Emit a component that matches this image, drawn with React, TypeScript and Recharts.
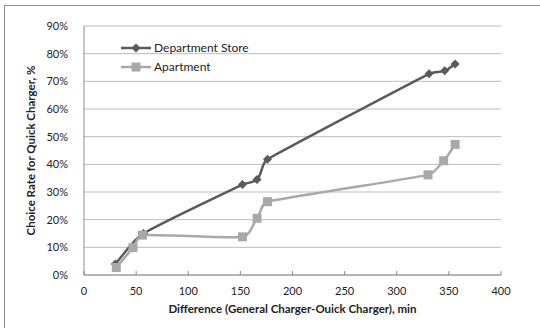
import React from "react";
import { Line, LineChart, CartesianGrid, XAxis, YAxis } from "recharts";

const departmentX = [30, 57, 152, 166, 176, 331, 346, 356];
const departmentRate = [4.0, 15.0, 32.7, 34.5, 41.8, 72.7, 73.8, 76.3];

const apartmentX = [31, 47, 56, 152, 166, 176, 330, 345, 356];
const apartmentRate = [2.7, 9.9, 14.4, 13.8, 20.5, 26.5, 36.2, 41.3, 47.2];

const xTicks = [0, 50, 100, 150, 200, 250, 300, 350, 400];
const yTicks = [0, 10, 20, 30, 40, 50, 60, 70, 80, 90];

const departmentData = departmentX.map((x, i) => ({ x, rate: departmentRate[i] }));
const apartmentData = apartmentX.map((x, i) => ({ x, rate: apartmentRate[i] }));

const DARK = "#5a5a5a";
const LIGHT = "#a9a9a9";
const FONT = "Lato, 'Open Sans', sans-serif";

// excel-ish smoothing: tangent from neighbours, short arms so long runs stay straight
const smoothCurve = (context: any) => {
  let pts: [number, number][] = [];
  return {
    areaStart() {},
    areaEnd() {},
    lineStart() {
      pts = [];
    },
    point(x: number, y: number) {
      pts.push([+x, +y]);
    },
    lineEnd() {
      const n = pts.length;
      if (!n) return;
      context.moveTo(pts[0][0], pts[0][1]);
      if (n === 1) return;
      const dir = (i: number) => {
        const a = pts[Math.max(0, i - 1)];
        const b = pts[Math.min(n - 1, i + 1)];
        const dx = b[0] - a[0];
        const dy = b[1] - a[1];
        const l = Math.hypot(dx, dy) || 1;
        return [dx / l, dy / l];
      };
      for (let i = 0; i < n - 1; i++) {
        const p = pts[i];
        const q = pts[i + 1];
        const L = Math.min(Math.hypot(q[0] - p[0], q[1] - p[1]) / 3, 14);
        const t0 = dir(i);
        const t1 = dir(i + 1);
        context.bezierCurveTo(
          p[0] + t0[0] * L,
          p[1] + t0[1] * L,
          q[0] - t1[0] * L,
          q[1] - t1[1] * L,
          q[0],
          q[1]
        );
      }
    },
  };
};

const Diamond = (props: any) => {
  const { cx, cy } = props;
  if (cx == null || cy == null) return null;
  const r = 4.5;
  return (
    <path
      d={`M${cx},${cy - r} L${cx + r},${cy} L${cx},${cy + r} L${cx - r},${cy} Z`}
      fill={DARK}
    />
  );
};

const Square = (props: any) => {
  const { cx, cy } = props;
  if (cx == null || cy == null) return null;
  const s = 9;
  return <rect x={cx - s / 2} y={cy - s / 2} width={s} height={s} fill={LIGHT} />;
};

const legendItems = [
  { name: "Department Store", color: DARK, marker: "diamond" },
  { name: "Apartment", color: LIGHT, marker: "square" },
];

const LegendBox = () => (
  <div style={{ fontFamily: FONT, fontSize: 12, color: "#222" }}>
    {legendItems.map((item) => (
      <div key={item.name} style={{ display: "flex", alignItems: "center", height: 19 }}>
        <svg width={32} height={12}>
          <line x1={0} y1={6} x2={30} y2={6} stroke={item.color} strokeWidth={2.5} />
          {item.marker === "diamond" ? (
            <path d="M15,1.5 L19.5,6 L15,10.5 L10.5,6 Z" fill={item.color} />
          ) : (
            <rect x={10.5} y={1.5} width={9} height={9} fill={item.color} />
          )}
        </svg>
        <span style={{ marginLeft: 1 }}>{item.name}</span>
      </div>
    ))}
  </div>
);

export default function App() {
  return (
    <div
      style={{
        position: "absolute",
        left: 0,
        top: 0,
        width: 540,
        height: 328,
        overflow: "hidden",
        background: "#fff",
      }}
    >
      <div
        style={{
          position: "absolute",
          left: 4,
          top: 5,
          width: 600,
          height: 400,
          border: "1px solid #8c8c8c",
        }}
      />
      <div style={{ position: "absolute", left: 0, top: 0 }}>
        <LineChart
          width={540}
          height={328}
          margin={{ top: 26, right: 39, left: 34, bottom: 23 }}
        >
          <CartesianGrid horizontal vertical={false} stroke="#bdbdbd" strokeWidth={1} />
          <XAxis
            type="number"
            dataKey="x"
            domain={[0, 400]}
            ticks={xTicks}
            allowDuplicatedCategory={false}
            height={30}
            stroke="#8c8c8c"
            tickSize={-4}
            tickMargin={16}
            tick={{ fill: "#222", fontSize: 11, fontFamily: FONT }}
            label={{
              value: "Difference (General Charger-Ouick Charger), min",
              position: "center",
              dy: 19,
              fill: "#222",
              fontSize: 11.5,
              fontWeight: 700,
              fontFamily: FONT,
            }}
          />
          <YAxis
            type="number"
            domain={[0, 90]}
            ticks={yTicks}
            width={50}
            stroke="#8c8c8c"
            tickLine={false}
            tickMargin={10}
            tickFormatter={(v: number) => `${v}%`}
            tick={{ fill: "#222", fontSize: 11, fontFamily: FONT }}
            label={{
              value: "Choice Rate for Quick Charger, %",
              angle: -90,
              position: "center",
              dx: -28,
              fill: "#222",
              fontSize: 11.5,
              fontWeight: 700,
              fontFamily: FONT,
            }}
          />
          <Line
            data={departmentData}
            dataKey="rate"
            name="Department Store"
            type={smoothCurve as any}
            stroke={DARK}
            strokeWidth={2.5}
            dot={<Diamond />}
            activeDot={false}
            isAnimationActive={false}
          />
          <Line
            data={apartmentData}
            dataKey="rate"
            name="Apartment"
            type={smoothCurve as any}
            stroke={LIGHT}
            strokeWidth={2.5}
            dot={<Square />}
            activeDot={false}
            isAnimationActive={false}
          />
        </LineChart>
      </div>
      <div style={{ position: "absolute", left: 121, top: 38 }}>
        <LegendBox />
      </div>
    </div>
  );
}
